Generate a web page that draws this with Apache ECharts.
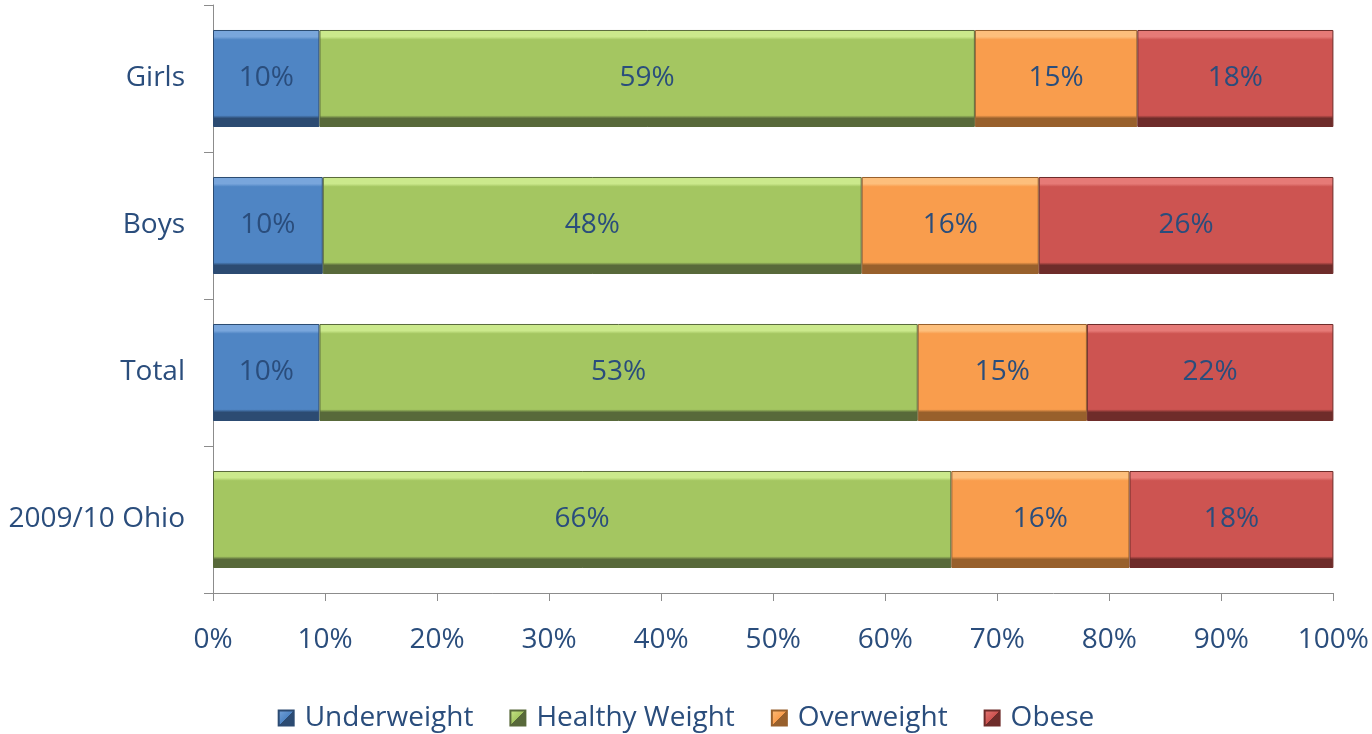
<!DOCTYPE html>
<html><head><meta charset="utf-8">
<script src="https://cdn.jsdelivr.net/npm/echarts@6/dist/echarts.min.js"></script>
<style>html,body{margin:0;padding:0;background:#fff}#c{width:1372px;height:734px}</style>
</head><body><div id="c"></div>
<script>
const categories = ['2009/10 Ohio', 'Total', 'Boys', 'Girls'];
const underweight = [0, 9.5, 9.8, 9.5];
const healthyWeight = [65.9, 53.4, 48.1, 58.5];
const overweight = [15.9, 15.1, 15.8, 14.5];
const obese = [18.2, 22.0, 26.3, 17.5];
const seriesNames = ['Underweight', 'Healthy Weight', 'Overweight', 'Obese'];
const xTicks = [0, 10, 20, 30, 40, 50, 60, 70, 80, 90, 100];

const palettes = [
  {base: '#4f85c4', light: '#79a6dc', dark: '#2c4b72'},
  {base: '#a4c661', light: '#cbe98c', dark: '#58693a'},
  {base: '#f99d4d', light: '#fdbf7c', dark: '#98602c'},
  {base: '#cd5451', light: '#e67a77', dark: '#6e2c2a'}
];
function grad(p) {
  return new echarts.graphic.LinearGradient(0, 0, 0, 1, [
    {offset: 0, color: p.light},
    {offset: 0.07, color: p.light},
    {offset: 0.1, color: p.base},
    {offset: 0.88, color: p.base},
    {offset: 0.91, color: p.dark},
    {offset: 1, color: p.dark}
  ]);
}
const txt = '#2a4d7c';
const font = '"Open Sans", Lato, sans-serif';
const fs = 28;
const dataSets = [underweight, healthyWeight, overweight, obese];
const chart = echarts.init(document.getElementById('c'));
chart.setOption({
  animation: false,
  grid: {left: 213, right: 37, top: 5, bottom: 141, containLabel: false},
  legend: {
    top: 699, left: 'center', itemWidth: 15, itemHeight: 15, itemGap: 36,
    textStyle: {color: txt, fontSize: fs, fontFamily: font, padding: [0, 0, 0, 6]},
    data: seriesNames.map((n, i) => ({name: n, icon: 'rect', itemStyle: {color: new echarts.graphic.LinearGradient(0, 0, 1, 1, [{offset: 0, color: palettes[i].light}, {offset: 0.5, color: palettes[i].base}, {offset: 0.5, color: palettes[i].dark}, {offset: 1, color: palettes[i].dark}])}}))
  },
  xAxis: {
    type: 'value', min: 0, max: 100, interval: 10,
    axisLine: {show: true, lineStyle: {color: '#8c8c8c'}},
    axisTick: {show: true, length: 8, lineStyle: {color: '#8c8c8c'}},
    splitLine: {show: false},
    axisLabel: {color: txt, fontSize: fs, fontFamily: font, margin: 33, formatter: v => xTicks.includes(v) ? v + '%' : ''}
  },
  yAxis: {
    type: 'category', data: categories,
    axisLine: {show: true, lineStyle: {color: '#8c8c8c'}},
    axisTick: {show: true, length: 9, lineStyle: {color: '#8c8c8c'}},
    axisLabel: {color: txt, fontSize: fs, fontFamily: font, margin: 28}
  },
  series: dataSets.map((d, i) => ({
    name: seriesNames[i], type: 'bar', stack: 'total', barCategoryGap: '34%',
    data: d.map(v => v === 0 ? null : v),
    itemStyle: {color: grad(palettes[i]), borderColor: palettes[i].dark, borderWidth: 1},
    label: {show: true, position: 'inside', color: txt, fontSize: fs, fontFamily: font,
      formatter: p => Math.round(p.value) + '%'}
  }))
});
</script></body></html>
